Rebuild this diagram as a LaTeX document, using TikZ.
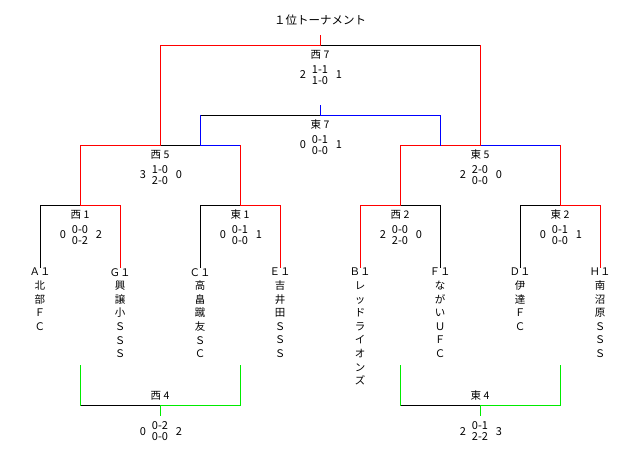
\documentclass[tikz,border=0pt]{standalone}
\usepackage{fontspec}
\setmainfont{Noto Sans CJK JP}
\definecolor{lime}{RGB}{0,235,0}
\newcommand\mymatch[8]{%
  \node[lbl] (#1-l) at (#2,#3+10) {#4};
  \node[sc] (#1-s) at (#2,#3+30) {#5\\#6};
  \node[sd] (#1-a) at (#2-17,#3+30) {#7};
  \node[sd] (#1-b) at (#2+19,#3+30) {#8};}
\newcommand\mymatchb[8]{%
  \node[lbl] (#1-l) at (#2,#3-9) {#4};
  \node[sc] (#1-s) at (#2,#3+26) {#5\\#6};
  \node[sd] (#1-a) at (#2-17,#3+27) {#7};
  \node[sd] (#1-b) at (#2+19,#3+27) {#8};}
\begin{document}
\begin{tikzpicture}[x=1pt,y=-1pt,
  ln/.style={line width=1pt,line cap=rect},
  blk/.style={ln,draw=black},
  rd/.style={ln,draw=red},
  bl/.style={ln,draw=blue},
  gr/.style={ln,draw=lime},
  lbl/.style={inner sep=0pt,font=\fontsize{10.5}{12}\selectfont},
  sc/.style={inner sep=0pt,align=center,font=\fontsize{11}{11.7}\selectfont},
  sd/.style={inner sep=0pt,font=\fontsize{11}{12}\selectfont},
  ttl/.style={inner sep=0pt,font=\fontsize{11.5}{13}\selectfont},
  team/.style={anchor=north,align=center,inner sep=1pt,font=\fontsize{10.5}{13.6}\selectfont}]
\path[use as bounding box] (0,0) rectangle (640,450);

\node[ttl] (title) at (320,20) {１位トーナメント};

% teams
\node[team] (A1) at (40,267) {Ａ１\\北\\部\\Ｆ\\Ｃ};
\node[team] (G1) at (120,267) {Ｇ１\\興\\譲\\小\\Ｓ\\Ｓ\\Ｓ};
\node[team] (C1) at (200,267) {Ｃ１\\高\\畠\\蹴\\友\\Ｓ\\Ｃ};
\node[team] (E1) at (280,267) {Ｅ１\\吉\\井\\田\\Ｓ\\Ｓ\\Ｓ};
\node[team] (B1) at (360,267) {Ｂ１\\レ\\ッ\\ド\\ラ\\イ\\オ\\ン\\ズ};
\node[team] (F1) at (440,267) {Ｆ１\\な\\が\\い\\Ｕ\\Ｆ\\Ｃ};
\node[team] (D1) at (520,267) {Ｄ１\\伊\\達\\Ｆ\\Ｃ};
\node[team] (H1) at (600,267) {Ｈ１\\南\\沼\\原\\Ｓ\\Ｓ\\Ｓ};

% junction coordinates
\coordinate (r1a) at (80,205);  \coordinate (r1a-l) at (40,205);  \coordinate (r1a-r) at (120,205);
\coordinate (r1b) at (240,205); \coordinate (r1b-l) at (200,205); \coordinate (r1b-r) at (280,205);
\coordinate (r1c) at (400,205); \coordinate (r1c-l) at (360,205); \coordinate (r1c-r) at (440,205);
\coordinate (r1d) at (560,205); \coordinate (r1d-l) at (520,205); \coordinate (r1d-r) at (600,205);
\coordinate (r2a) at (160,145); \coordinate (r2a-l) at (80,145);  \coordinate (r2a-r) at (240,145); \coordinate (r2a-m) at (200,145);
\coordinate (r2b) at (480,145); \coordinate (r2b-l) at (400,145); \coordinate (r2b-r) at (560,145); \coordinate (r2b-m) at (440,145);
\coordinate (e7) at (320,115);  \coordinate (e7-l) at (200,115);  \coordinate (e7-r) at (440,115); \coordinate (e7-t) at (320,105);
\coordinate (w7) at (320,45);   \coordinate (w7-l) at (160,45);   \coordinate (w7-r) at (480,45);  \coordinate (w7-t) at (320,35);
\coordinate (b1) at (160,405);  \coordinate (b1-l) at (80,405);   \coordinate (b1-r) at (240,405);
\coordinate (b1-lt) at (80,365); \coordinate (b1-rt) at (240,365); \coordinate (b1-s) at (160,415);
\coordinate (b2) at (480,405);  \coordinate (b2-l) at (400,405);  \coordinate (b2-r) at (560,405);
\coordinate (b2-lt) at (400,365); \coordinate (b2-rt) at (560,365); \coordinate (b2-s) at (480,415);

% round 1
\draw[blk] (A1.north) -- (r1a-l) -- (r1a);
\draw[rd]  (r1a) -- (r1a-r) -- (G1.north);
\draw[blk] (C1.north) -- (r1b-l) -- (r1b);
\draw[rd]  (r1b) -- (r1b-r) -- (E1.north);
\draw[rd]  (B1.north) -- (r1c-l) -- (r1c);
\draw[blk] (r1c) -- (r1c-r) -- (F1.north);
\draw[blk] (D1.north) -- (r1d-l) -- (r1d);
\draw[rd]  (r1d) -- (r1d-r) -- (H1.north);

% round 2
\draw[blk] (r2a) -- (r2a-m);
\draw[rd]  (r1a) -- (r2a-l) -- (r2a);
\draw[bl]  (r2a-m) -- (r2a-r);
\draw[rd]  (r2a-r) -- (r1b);
\draw[rd]  (r1c) -- (r2b-l) -- (r2b);
\draw[bl]  (r2b) -- (r2b-r);
\draw[rd]  (r2b-r) -- (r1d);

% east 7
\draw[blk] (e7-l) -- (e7);
\draw[bl]  (r2a-m) -- (e7-l);
\draw[bl]  (e7-t) -- (e7) -- (e7-r) -- (r2b-m);

% west 7
\draw[blk] (w7) -- (w7-r);
\draw[rd]  (r2a) -- (w7-l) -- (w7) -- (w7-t);
\draw[rd]  (w7-r) -- (r2b);

% bottom
\draw[blk] (b1-l) -- (b1);
\draw[gr]  (b1-lt) -- (b1-l);
\draw[gr]  (b1-rt) -- (b1-r) -- (b1) -- (b1-s);
\draw[blk] (b2-l) -- (b2);
\draw[gr]  (b2-lt) -- (b2-l);
\draw[gr]  (b2-rt) -- (b2-r) -- (b2) -- (b2-s);

% labels
\mymatch{m7w}{320}{45}{西 7}{1-1}{1-0}{2}{1}
\mymatch{m7e}{320}{115}{東 7}{0-1}{0-0}{0}{1}
\mymatch{m5w}{160}{145}{西 5}{1-0}{2-0}{3}{0}
\mymatch{m5e}{480}{145}{東 5}{2-0}{0-0}{2}{0}
\mymatch{m1w}{80}{205}{西 1}{0-0}{0-2}{0}{2}
\mymatch{m1e}{240}{205}{東 1}{0-1}{0-0}{0}{1}
\mymatch{m2w}{400}{205}{西 2}{0-0}{2-0}{2}{0}
\mymatch{m2e}{560}{205}{東 2}{0-1}{0-0}{0}{1}
\mymatchb{m4w}{160}{405}{西 4}{0-2}{0-0}{0}{2}
\mymatchb{m4e}{480}{405}{東 4}{0-1}{2-2}{2}{3}
\end{tikzpicture}
\end{document}
